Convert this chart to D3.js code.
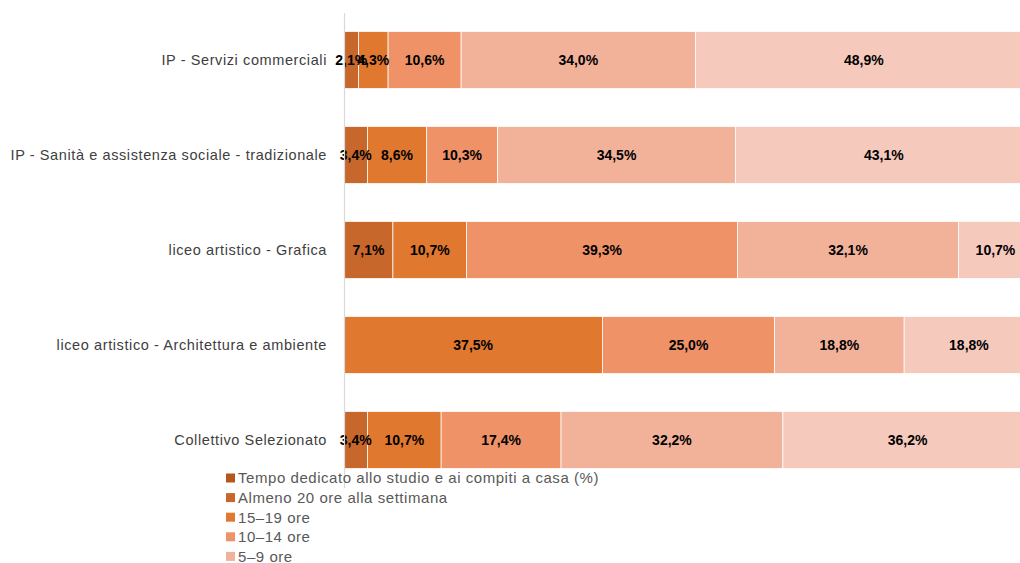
<!DOCTYPE html>
<html><head><meta charset="utf-8">
<script src="https://cdn.jsdelivr.net/npm/d3@7"></script>
<style>body{margin:0;background:#fff}svg{display:block}text{font-family:"Liberation Sans",Arial,sans-serif}</style>
</head><body><svg id="c" width="1020" height="563"></svg>
<script>
const categories = ["IP - Servizi commerciali","IP - Sanità e assistenza sociale - tradizionale","liceo artistico - Grafica","liceo artistico - Architettura e ambiente","Collettivo Selezionato"];
const seriesKeys = ["Almeno 20 ore alla settimana","15–19 ore","10–14 ore","5–9 ore","Meno di 5 ore"];
const values = [
  [2.1, 4.3, 10.6, 34.0, 48.9],
  [3.4, 8.6, 10.3, 34.5, 43.1],
  [7.1, 10.7, 39.3, 32.1, 10.7],
  [0, 37.5, 25.0, 18.8, 18.8],
  [3.4, 10.7, 17.4, 32.2, 36.2]
];
const seriesColors = ["#c8672b","#e07830","#ef9267","#f2b29a","#f5cabc"];
const legendLabels = ["Tempo dedicato allo studio e ai compiti a casa (%)","Almeno 20 ore alla settimana","15–19 ore","10–14 ore","5–9 ore"];
const legendColors = ["#b5561f","#c8672b","#e07830","#ef9267","#f2b29a"];

const svg = d3.select("#c");
const x = d3.scaleLinear().domain([0,100]).range([344,1033]);
const y = d3.scaleBand().domain(categories).range([12.5,487.5]).paddingInner(0.4).paddingOuter(0.2);

const rows = categories.map((c,i)=>{
  let acc=0; const o={cat:c};
  o.segs = values[i].map((v,j)=>{const s={key:seriesKeys[j],j,v,x0:acc,x1:acc+v};acc+=v;return s;});
  return o;
});

const g = svg.append("g");
rows.forEach(r=>{
  const segs = r.segs.filter(s=>s.v>0);
  g.selectAll(null).data(segs).enter().append("rect")
    .attr("x",d=>x(d.x0)).attr("width",d=>x(d.x1)-x(d.x0))
    .attr("y",y(r.cat)).attr("height",y.bandwidth())
    .attr("fill",d=>seriesColors[d.j]).attr("stroke","#fff").attr("stroke-width",0.75);
  g.selectAll(null).data(segs).enter().append("text")
    .attr("x",d=>(x(d.x0)+x(d.x1))/2).attr("y",y(r.cat)+y.bandwidth()/2)
    .attr("dy","0.36em").attr("text-anchor","middle")
    .attr("font-size",14).attr("font-weight","bold").attr("fill","#000")
    .text(d=>d.v.toFixed(1).replace(".",",")+"%");
});

// y axis
const ax = svg.append("g").attr("transform","translate(344,0)")
  .call(d3.axisLeft(y).tickSize(0).tickPadding(17));
ax.select(".domain").attr("stroke","#d9d9d9").attr("stroke-width",1.2);
ax.selectAll("text").attr("font-size",14.5).attr("fill","#404040").attr("letter-spacing","0.6px")
  .attr("font-family","'Liberation Sans',Arial,sans-serif");

// legend
const lg = svg.append("g");
legendLabels.forEach((l,i)=>{
  const yy = 478 + i*19.6;
  lg.append("rect").attr("x",226).attr("y",yy-4.5).attr("width",9).attr("height",9).attr("fill",legendColors[i]);
  lg.append("text").attr("x",238).attr("y",yy).attr("dy","0.36em").attr("font-size",15).attr("letter-spacing","0.55px").attr("fill","#595959").text(l);
});
</script></body></html>
